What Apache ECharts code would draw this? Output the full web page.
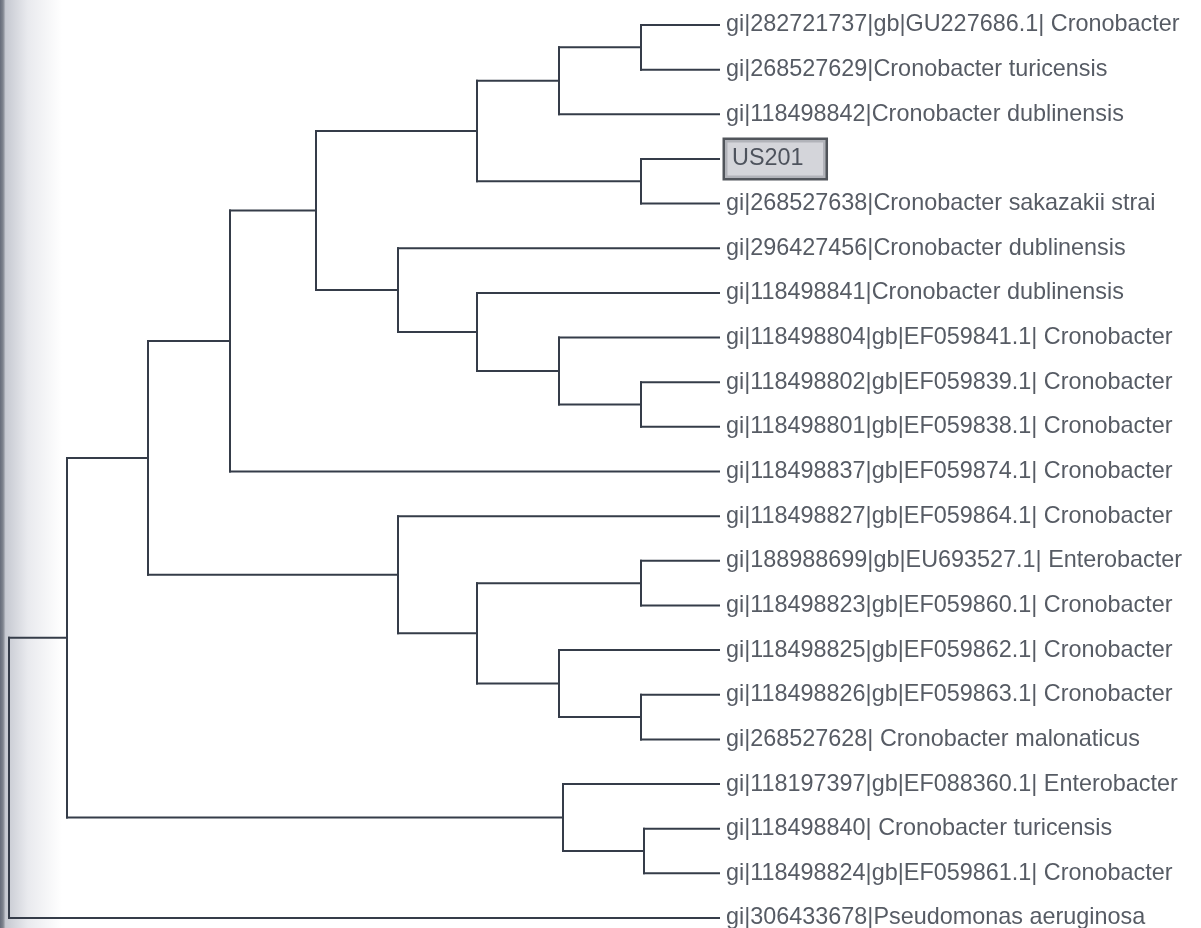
<!DOCTYPE html>
<html>
<head>
<meta charset="utf-8">
<script src="https://cdn.jsdelivr.net/npm/echarts@6/dist/echarts.min.js"></script>
<style>html,body{margin:0;padding:0;background:#fff;}#chart{width:1201px;height:928px;}</style>
</head>
<body>
<div id="chart"></div>
<script>
// Leaf labels, top to bottom
const leafLabels = [
  'gi|282721737|gb|GU227686.1| Cronobacter',
  'gi|268527629|Cronobacter turicensis',
  'gi|118498842|Cronobacter dublinensis',
  'US201',
  'gi|268527638|Cronobacter sakazakii strai',
  'gi|296427456|Cronobacter dublinensis',
  'gi|118498841|Cronobacter dublinensis',
  'gi|118498804|gb|EF059841.1| Cronobacter',
  'gi|118498802|gb|EF059839.1| Cronobacter',
  'gi|118498801|gb|EF059838.1| Cronobacter',
  'gi|118498837|gb|EF059874.1| Cronobacter',
  'gi|118498827|gb|EF059864.1| Cronobacter',
  'gi|188988699|gb|EU693527.1| Enterobacter',
  'gi|118498823|gb|EF059860.1| Cronobacter',
  'gi|118498825|gb|EF059862.1| Cronobacter',
  'gi|118498826|gb|EF059863.1| Cronobacter',
  'gi|268527628| Cronobacter malonaticus',
  'gi|118197397|gb|EF088360.1| Enterobacter',
  'gi|118498840| Cronobacter turicensis',
  'gi|118498824|gb|EF059861.1| Cronobacter',
  'gi|306433678|Pseudomonas aeruginosa'
];
const leafDepth = 710;
const highlightLeaf = 'US201';

// Internal nodes: id, depth (distance from root, units), children (leaf index numbers or node ids)
const nodeIds    = ['root','S','P','J','I','D','B','A','C','E','F','G','H','K','L','M','N','O','Q','R'];
const nodeDepths = [0,     58,  139, 221, 307, 468, 550, 632, 632, 389, 468, 550, 632, 389, 468, 632, 550, 632, 554, 635];
const nodeChildren = [
  ['S', 20],
  ['P', 'Q'],
  ['J', 'K'],
  ['I', 10],
  ['D', 'E'],
  ['B', 'C'],
  ['A', 2],
  [0, 1],
  [3, 4],
  [5, 'F'],
  [6, 'G'],
  [7, 'H'],
  [8, 9],
  [11, 'L'],
  ['M', 'N'],
  [12, 13],
  [14, 'O'],
  [15, 16],
  [17, 'R'],
  [18, 19]
];

// ---- layout from data ----
const nodeMap = {};
nodeIds.forEach((id, i) => nodeMap[id] = {depth: nodeDepths[i], children: nodeChildren[i]});
function info(c) {
  if (typeof c === 'number') return {depth: leafDepth, y: c};
  const n = nodeMap[c];
  if (n.y === undefined) {
    const ys = n.children.map(ch => info(ch).y);
    n.y = (Math.min(...ys) + Math.max(...ys)) / 2;
    n.yMin = Math.min(...ys); n.yMax = Math.max(...ys);
  }
  return n;
}
info('root');
// segments: [x1, y1, x2, y2]
const segments = [];
nodeIds.forEach(id => {
  const n = nodeMap[id];
  segments.push([n.depth, n.yMin, n.depth, n.yMax]);
  n.children.forEach(ch => {
    const c = info(ch);
    segments.push([n.depth, c.y, c.depth, c.y]);
  });
});

const lineColor = '#353c49';
const textColor = '#2c323d';

const chart = echarts.init(document.getElementById('chart'), null, {renderer: 'canvas'});
chart.setOption({
  backgroundColor: '#ffffff',
  animation: false,
  graphic: [{
    type: 'rect', z: -10, silent: true,
    shape: {x: 0, y: 0, width: 62, height: 928},
    style: {
      fill: new echarts.graphic.LinearGradient(0, 0, 1, 0, [
        {offset: 0, color: '#656b79'},
        {offset: 0.05, color: '#80858f'},
        {offset: 0.09, color: '#c6c9d1'},
        {offset: 0.45, color: '#e9eaee'},
        {offset: 1, color: '#ffffff'}
      ])
    }
  }],
  grid: {left: 9, right: 482, top: 25, bottom: 10, containLabel: false},
  xAxis: {type: 'value', min: 0, max: leafDepth, show: false},
  yAxis: {type: 'value', min: 0, max: leafLabels.length - 1, inverse: true, show: false},
  series: [
    {
      type: 'custom',
      silent: true,
      data: segments,
      renderItem: function (params, api) {
        const p1 = api.coord([api.value(0), api.value(1)]);
        const p2 = api.coord([api.value(2), api.value(3)]);
        return {
          type: 'line',
          shape: {x1: p1[0], y1: p1[1], x2: p2[0], y2: p2[1]},
          style: {stroke: lineColor, lineWidth: 2, lineCap: 'square'}
        };
      }
    },
    {
      type: 'scatter',
      symbolSize: 0,
      silent: true,
      data: leafLabels.map((name, i) => ({
        value: [leafDepth, i],
        name: name,
        label: name === highlightLeaf ? {
          distance: 6,
          backgroundColor: '#c9cbd1',
          borderColor: '#252a32',
          borderWidth: 2.5,
          padding: [8, 22, 7, 7]
        } : {}
      })),
      label: {
        show: true,
        position: 'right',
        distance: 7,
        formatter: p => p.name,
        fontFamily: 'Liberation Sans, Arial, sans-serif',
        fontSize: 23.4,
        color: textColor
      }
    }
  ]
});
</script>
</body>
</html>
